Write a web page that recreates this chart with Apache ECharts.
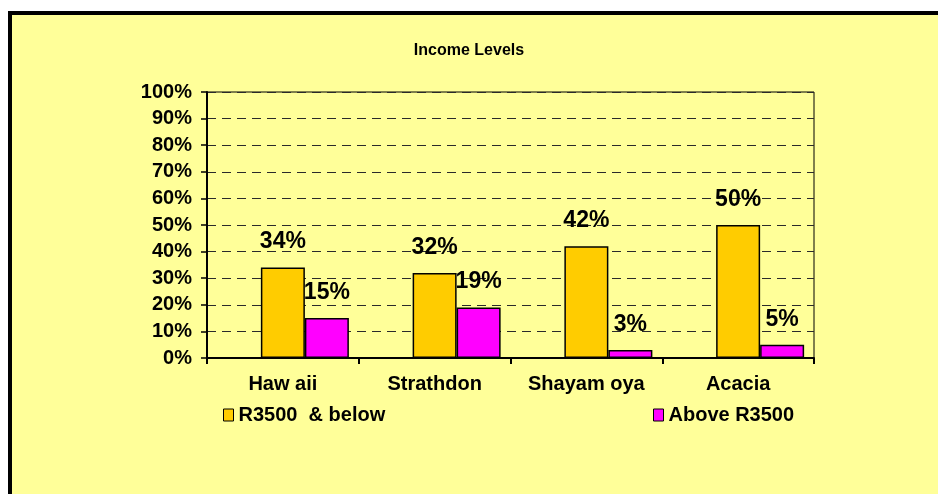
<!DOCTYPE html>
<html>
<head>
<meta charset="utf-8">
<title>Income Levels</title>
<script src="https://cdn.jsdelivr.net/npm/echarts@6/dist/echarts.min.js"></script>
<style>
  html, body { margin: 0; padding: 0; background: #fff; }
  #charts { width: 938px; height: 494px; }
</style>
</head>
<body>
<div id="charts"></div>
<script>
// data
var areas = ['Hawaii', 'Strathdon', 'Shayamoya', 'Acacia'];
var areaLabels = ['Haw aii', 'Strathdon', 'Shayam oya', 'Acacia'];
var belowValues = [34, 32, 42, 50];   // R3500 & below
var aboveValues = [15, 19, 3, 5];     // Above R3500
var emptyValues = [null, null, null, null]; // blank series kept by the original chart
var yTicks = { min: 0, max: 100, step: 10 };

var fontName = '"Liberation Sans", Arial, sans-serif';

var charts = echarts.init(document.getElementById('charts'));

var barLabel = {
	show: true,
	position: 'top',
	distance: 14,
	formatter: '{c}%',
	color: '#000',
	fontFamily: fontName,
	fontWeight: 'bold',
	fontSize: 23
};

var legendText = { fontFamily: fontName, fontWeight: 'bold', fontSize: 20, color: '#000' };

var option = {
	backgroundColor: '#fff',
	animation: false,
	graphic: [{
		type: 'rect',
		z: -10,
		silent: true,
		shape: { x: 10, y: 13, width: 960, height: 500 },
		style: { fill: '#FFFF99', stroke: '#000', lineWidth: 4 }
	}],
	title: {
		text: 'Income Levels',
		left: 'center',
		top: 38,
		textStyle: {
			fontFamily: fontName,
			fontWeight: 'bold',
			fontSize: 16,
			color: '#000'
		}
	},
	legend: [{
		data: ['R3500  & below'],
		left: 218,
		top: 400,
		icon: 'rect',
		itemWidth: 10,
		itemHeight: 12,
		itemGap: 6,
		itemStyle: { borderColor: '#000', borderWidth: 1 },
		textStyle: legendText
	}, {
		data: ['Above R3500'],
		left: 648,
		top: 400,
		icon: 'rect',
		itemWidth: 10,
		itemHeight: 12,
		itemGap: 6,
		itemStyle: { borderColor: '#000', borderWidth: 1 },
		textStyle: legendText
	}],
	grid: {
		left: 207,
		right: 124,
		top: 92,
		bottom: 136,
		show: true,
		borderColor: '#000',
		borderWidth: 1,
		backgroundColor: 'transparent'
	},
	xAxis: {
		type: 'category',
		data: areas,
		axisLine: { lineStyle: { color: '#000', width: 2 } },
		axisTick: { show: true, length: 6, lineStyle: { color: '#000', width: 2 } },
		axisLabel: {
			margin: 16,
			color: '#000',
			fontFamily: fontName,
			fontWeight: 'bold',
			fontSize: 20,
			formatter: function (v, i) { return areaLabels[i]; }
		},
		splitLine: { show: false }
	},
	yAxis: {
		type: 'value',
		min: yTicks.min,
		max: yTicks.max,
		interval: yTicks.step,
		axisLine: { show: true, lineStyle: { color: '#000', width: 2 } },
		axisTick: { show: true, length: 6, lineStyle: { color: '#000', width: 1.5 } },
		axisLabel: {
			margin: 15,
			color: '#000',
			fontFamily: fontName,
			fontWeight: 'bold',
			fontSize: 20,
			formatter: '{value}%'
		},
		splitLine: {
			show: true,
			lineStyle: { color: '#2a2a2a', width: 1.2, type: [9, 6] }
		}
	},
	series: [{
		name: '',
		type: 'bar',
		barWidth: 44,
		barGap: '0%',
		data: emptyValues
	}, {
		name: 'R3500  & below',
		type: 'bar',
		barWidth: 44,
		barGap: '0%',
		itemStyle: { color: '#FFCC00', borderColor: '#000', borderWidth: 1.5 },
		label: barLabel,
		data: belowValues
	}, {
		name: 'Above R3500',
		type: 'bar',
		barWidth: 44,
		barGap: '0%',
		itemStyle: { color: '#FF00FF', borderColor: '#000', borderWidth: 1.5 },
		label: barLabel,
		data: aboveValues
	}]
};
charts.setOption(option);
</script>
</body>
</html>
